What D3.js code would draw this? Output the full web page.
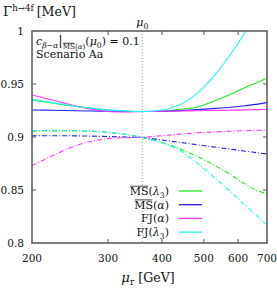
<!DOCTYPE html>
<html>
<head>
<meta charset="utf-8">
<script src="https://cdn.jsdelivr.net/npm/d3@7"></script>
<style>
body { margin: 0; background: #fff; }
text { font-family: "DejaVu Serif", "Liberation Serif", serif; fill: #111; }
</style>
</head>
<body>
<div id="chart"></div>
<script>
const width = 277;
const height = 291;
const margin = {top: 31, right: 10, bottom: 48, left: 32};
const innerWidth = width - margin.left - margin.right;
const innerHeight = height - margin.top - margin.bottom;

// renormalisation scale grid (GeV)
const muGrid = [200, 225, 250, 275, 300, 330, 360, 400, 440, 480, 525, 575, 625, 660, 700];
const mu0 = 360;

// solid curves
const msLam3 = [0.9350, 0.9318, 0.9290, 0.9270, 0.9255, 0.9245, 0.9240, 0.9245, 0.9262, 0.9280, 0.9335, 0.9400, 0.9470, 0.9510, 0.9554];
const msAlpha = [0.9255, 0.9252, 0.9248, 0.9245, 0.9243, 0.9241, 0.9240, 0.9242, 0.9249, 0.9258, 0.9268, 0.9280, 0.9296, 0.9308, 0.9324];
const fjAlpha = [0.9396, 0.9345, 0.9298, 0.9262, 0.9240, 0.9236, 0.9240, 0.9243, 0.9245, 0.9248, 0.9250, 0.9253, 0.9256, 0.9258, 0.9260];
const fjLam3 = [0.9355, 0.9322, 0.9293, 0.9272, 0.9256, 0.9245, 0.9240, 0.9255, 0.9305, 0.9405, 0.9565, 0.9774, 1.0000, 1.0200, 1.0450];

// dash-dotted curves
const msLam3D = [0.9055, 0.9058, 0.9057, 0.9053, 0.9043, 0.9025, 0.8995, 0.8948, 0.8888, 0.8822, 0.8740, 0.8648, 0.8553, 0.8498, 0.8465];
const msAlphaD = [0.9012, 0.9012, 0.9011, 0.9008, 0.9004, 0.9000, 0.8995, 0.8971, 0.8949, 0.8928, 0.8907, 0.8886, 0.8866, 0.8853, 0.8840];
const fjAlphaD = [0.8730, 0.8830, 0.8912, 0.8960, 0.8985, 0.8994, 0.8998, 0.9012, 0.9027, 0.9039, 0.9047, 0.9054, 0.9060, 0.9063, 0.9066];
const fjLam3D = [0.9060, 0.9063, 0.9060, 0.9055, 0.9043, 0.9023, 0.8995, 0.8945, 0.8872, 0.8760, 0.8628, 0.8488, 0.8352, 0.8265, 0.8170];

const xTicks = [200, 300, 400, 500, 600, 700];
const yTicks = [0.8, 0.85, 0.9, 0.95, 1];

const colors = {msLam3: "#22e822", msAlpha: "#2222ee", fjAlpha: "#ff33ff", fjLam3: "#22f4f4"};

const series = [
    {vals: msLam3, color: colors.msLam3, dash: null},
    {vals: msAlpha, color: colors.msAlpha, dash: null},
    {vals: fjAlpha, color: colors.fjAlpha, dash: null},
    {vals: fjLam3, color: colors.fjLam3, dash: null},
    {vals: msLam3D, color: colors.msLam3, dash: "5,2,1,2"},
    {vals: msAlphaD, color: colors.msAlpha, dash: "5,2,1,2"},
    {vals: fjAlphaD, color: colors.fjAlpha, dash: "5,2,1,2"},
    {vals: fjLam3D, color: colors.fjLam3, dash: "5,2,1,2"}
];

// legend entries: parts of each label
const legendItems = [
    {color: colors.msLam3, parts: [{t: "MS", o: true}, {t: "("}, {t: "λ", i: true}, {t: "3", s: 0.7, dy: 3}, {t: ")"}]},
    {color: colors.msAlpha, parts: [{t: "MS", o: true}, {t: "("}, {t: "α", i: true}, {t: ")"}]},
    {color: colors.fjAlpha, parts: [{t: "FJ("}, {t: "α", i: true}, {t: ")"}]},
    {color: colors.fjLam3, parts: [{t: "FJ("}, {t: "λ", i: true}, {t: "3", s: 0.7, dy: 3}, {t: ")"}]}
];

const svg = d3.select("#chart")
    .append("svg")
        .attr("width", width)
        .attr("height", height);

const g = svg.append("g")
    .attr("transform", "translate(" + margin.left + "," + margin.top + ")");

const xScale = d3.scaleLog()
    .domain([200, 700])
    .range([0, innerWidth]);

const yScale = d3.scaleLinear()
    .domain([0.8, 1])
    .range([innerHeight, 0]);

// one text with tspans for sub/superscripts, overline drawn by hand; returns width
function rich(parent, parts, size) {
    const txt = parent.append("text").attr("x", 0).attr("y", 0);
    const spans = [];
    let prevDy = 0;
    parts.forEach(function(p, i) {
        const fs = size * (p.s || 1);
        const dy = p.dy || 0;
        const sp = txt.append("tspan")
            .attr("dy", dy - prevDy)
            .attr("font-size", fs)
            .attr("font-style", p.i ? "italic" : "normal")
            .text(p.t);
        if (i > 0 && parts[i - 1].sp) sp.attr("dx", parts[i - 1].sp);
        spans.push({node: sp.node(), p: p, fs: fs, dy: dy});
        prevDy = dy;
    });
    spans.forEach(function(s) {
        if (s.p.o) {
            const b = s.node.getBBox();
            parent.append("line")
                .attr("x1", b.x + 0.5).attr("x2", b.x + b.width - 0.5)
                .attr("y1", s.dy - s.fs * 0.8).attr("y2", s.dy - s.fs * 0.8)
                .attr("stroke", "#111").attr("stroke-width", 0.8);
        }
    });
    return txt.node().getComputedTextLength();
}

g.append("clipPath")
    .attr("id", "plot-clip")
  .append("rect")
    .attr("width", innerWidth)
    .attr("height", innerHeight);

// mu0 line
g.append("line")
    .attr("x1", xScale(mu0)).attr("x2", xScale(mu0))
    .attr("y1", 0).attr("y2", innerHeight)
    .attr("stroke", "#999")
    .attr("stroke-width", 1)
    .attr("stroke-dasharray", "1,2");

// ticks on all four sides, pointing inward
const tickLen = 4;
xTicks.forEach(function(v) {
    if (v == 200 || v == 700) return;
    g.append("line").attr("x1", xScale(v)).attr("x2", xScale(v))
        .attr("y1", innerHeight).attr("y2", innerHeight - tickLen)
        .attr("stroke", "#555").attr("stroke-width", 1);
    g.append("line").attr("x1", xScale(v)).attr("x2", xScale(v))
        .attr("y1", 0).attr("y2", tickLen)
        .attr("stroke", "#555").attr("stroke-width", 1);
});
yTicks.forEach(function(v) {
    if (v == 0.8 || v == 1) return;
    g.append("line").attr("x1", 0).attr("x2", tickLen)
        .attr("y1", yScale(v)).attr("y2", yScale(v))
        .attr("stroke", "#555").attr("stroke-width", 1);
    g.append("line").attr("x1", innerWidth).attr("x2", innerWidth - tickLen)
        .attr("y1", yScale(v)).attr("y2", yScale(v))
        .attr("stroke", "#555").attr("stroke-width", 1);
});

// tick labels
g.selectAll(".xlab")
    .data(xTicks)
    .enter().append("text")
        .attr("class", "xlab")
        .attr("x", d => xScale(d))
        .attr("y", innerHeight + 19)
        .attr("text-anchor", "middle")
        .attr("font-size", 10.5)
        .text(d => d);

g.selectAll(".ylab")
    .data(yTicks)
    .enter().append("text")
        .attr("class", "ylab")
        .attr("x", -8)
        .attr("y", d => yScale(d) + 4)
        .attr("text-anchor", "end")
        .attr("font-size", 10.5)
        .text(d => d);

// curves
const line = d3.line()
    .x((d, i) => xScale(muGrid[i]))
    .y(d => yScale(d))
    .curve(d3.curveCatmullRom.alpha(0.5));

const curves = g.append("g").attr("clip-path", "url(#plot-clip)");
series.forEach(function(s) {
    curves.append("path")
        .attr("d", line(s.vals))
        .attr("fill", "none")
        .attr("stroke", s.color)
        .attr("stroke-width", 1.1)
        .attr("stroke-dasharray", s.dash);
});

// legend
const legendRow0 = 160;
const legendStep = 13.7;
legendItems.forEach(function(item, i) {
    const y = legendRow0 + i * legendStep;
    const lg = g.append("g");
    const w = rich(lg, item.parts, 11);
    lg.attr("transform", "translate(" + (137 - w) + "," + (y + 4) + ")");
    g.append("line")
        .attr("x1", 147).attr("x2", 170)
        .attr("y1", y).attr("y2", y)
        .attr("stroke", item.color)
        .attr("stroke-width", 1.3);
});

// frame
g.append("rect")
    .attr("width", innerWidth)
    .attr("height", innerHeight)
    .attr("fill", "none")
    .attr("stroke", "#555")
    .attr("stroke-width", 1.5);

// annotation
const ann = g.append("g").attr("transform", "translate(4,14)");
rich(ann, [
    {t: "c", i: true},
    {t: "β−α", i: true, s: 0.7, dy: 3},
    {t: "|", s: 1.2},
    {t: "MS", s: 0.65, dy: 4, o: true},
    {t: "(", s: 0.65, dy: 4},
    {t: "α", i: true, s: 0.65, dy: 4},
    {t: ")", s: 0.65, dy: 4},
    {t: "("},
    {t: "μ", i: true},
    {t: "0", s: 0.7, dy: 3},
    {t: ") = 0.1"}
], 11);
g.append("text")
    .attr("x", 4)
    .attr("y", 27)
    .attr("font-size", 11)
    .text("Scenario Aa");

// mu0 label
const m0 = g.append("g");
const m0w = rich(m0, [{t: "μ", i: true}, {t: "0", s: 0.7, dy: 3}], 11);
m0.attr("transform", "translate(" + (xScale(mu0) - m0w / 2) + ",-5)");

// axis titles
const yt = svg.append("g");
rich(yt, [{t: "Γ", s: 1.1}, {t: "h→4f", s: 0.72, dy: -5, sp: 3}, {t: "[MeV]", s: 1.05}], 12);
yt.attr("transform", "translate(3,16)");

const xt = svg.append("g");
const xtw = rich(xt, [{t: "μ", i: true, s: 1.1}, {t: "r", s: 0.75, dy: 3, sp: 4}, {t: "[GeV]", s: 1.05}], 12);
xt.attr("transform", "translate(" + (146 - xtw / 2) + ",282)");
</script>
</body>
</html>
